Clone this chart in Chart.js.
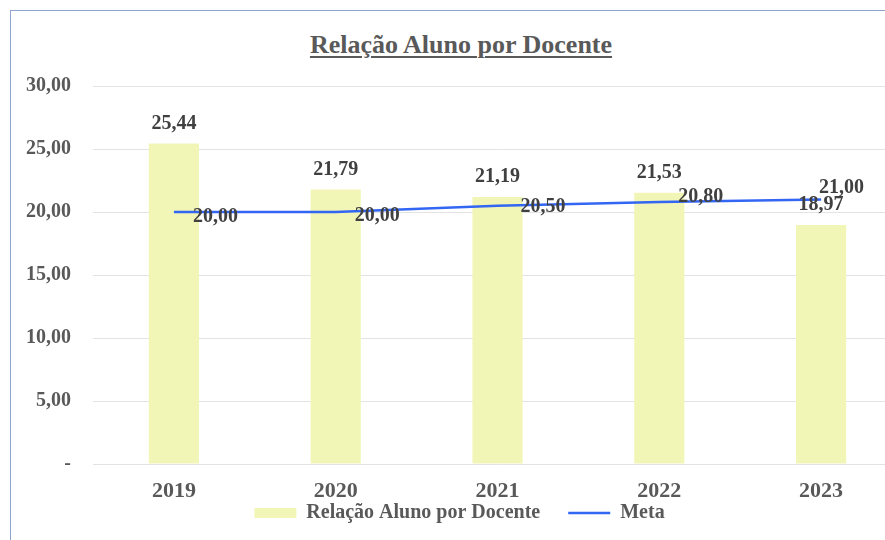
<!DOCTYPE html>
<html>
<head>
<meta charset="utf-8">
<script src="https://cdn.jsdelivr.net/npm/chart.js@4.4.1/dist/chart.umd.min.js"></script>
<style>
    html, body { margin: 0; padding: 0; background: #ffffff; overflow: hidden; width: 885px; height: 540px; }
    #box { position: absolute; left: 10px; top: 10px; width: 900px; height: 560px; border-left: 1px solid #8ea5cf; border-top: 1px solid #8ea5cf; box-sizing: border-box; }
    #title { position: absolute; left: 0; top: 19px; width: 900px; text-align: center; font: bold 26px "Liberation Serif", serif; color: #595959; text-decoration: underline; text-underline-offset: 3px; text-decoration-thickness: 2px; }
    #chartwrap { position: absolute; left: 0; top: 0; width: 900px; height: 522px; }
</style>
</head>
<body>
<div id="box">
    <div id="title">Relação Aluno por Docente</div>
    <div id="chartwrap"><canvas id="ratiochart"></canvas></div>
</div>
<script>
const years = ["2019", "2020", "2021", "2022", "2023"];
const ratioValues = [25.44, 21.79, 21.19, 21.53, 18.97];
const metaValues = [20.00, 20.00, 20.50, 20.80, 21.00];
const yTicks = [0, 5, 10, 15, 20, 25, 30];

// label offsets for the Meta values (dx from point, dy from point)
const metaLabelOffsets = [[19, 5], [19, 4], [23, 1], [19, -5], [-2, -12]];

const labelFont = 'bold 20px "Liberation Serif", serif';
const yearFont = 'bold 22px "Liberation Serif", serif';

function formatBR(v) {
    if (v === 0) return "-";
    return v.toFixed(2).replace(".", ",");
}

const valueLabels = {
    id: "valueLabels",
    afterDraw(chart) {
        const ctx = chart.ctx;
        ctx.save();
        ctx.textBaseline = "middle";

        // category labels under the axis
        const xScale = chart.scales.x;
        ctx.font = yearFont;
        ctx.fillStyle = "#595959";
        ctx.textAlign = "center";
        years.forEach((y, i) => {
            ctx.fillText(y, xScale.getPixelForTick(i), chart.chartArea.bottom + 27);
        });

        ctx.font = labelFont;
        ctx.fillStyle = "#404040";
        const barMeta = chart.getDatasetMeta(0);
        barMeta.data.forEach((bar, i) => {
            ctx.fillText(formatBR(ratioValues[i]), bar.x, bar.y - 20);
        });

        const lineMeta = chart.getDatasetMeta(1);
        ctx.textAlign = "left";
        lineMeta.data.forEach((pt, i) => {
            const off = metaLabelOffsets[i];
            ctx.fillText(formatBR(metaValues[i]), pt.x + off[0], pt.y + off[1]);
        });
        ctx.restore();
    }
};

const ratioChart = new Chart(document.getElementById("ratiochart"), {
    type: "bar",
    data: {
        labels: years,
        datasets: [
            {
                label: "Relação Aluno por Docente",
                data: ratioValues,
                backgroundColor: "#f1f6b7",
                borderWidth: 0,
                barPercentage: 0.62,
                categoryPercentage: 0.5,
                pointStyle: "rect",
                order: 2
            },
            {
                type: "line",
                label: "Meta",
                data: metaValues,
                borderColor: "#3366f2",
                backgroundColor: "#3366f2",
                borderWidth: 2.5,
                pointRadius: 0,
                pointStyle: "line",
                tension: 0,
                order: 1
            }
        ]
    },
    options: {
        responsive: true,
        maintainAspectRatio: false,
        animation: false,
        layout: {
            padding: { top: 75, right: 9, left: 6, bottom: 0 }
        },
        plugins: {
            title: { display: false },
            tooltip: { enabled: false },
            legend: {
                position: "bottom",
                labels: {
                    usePointStyle: true,
                    pointStyleWidth: 42,
                    boxHeight: 10,
                    padding: 28,
                    color: "#595959",
                    font: { family: "Liberation Serif", size: 20, weight: "bold" },
                    sort: (a, b) => a.datasetIndex - b.datasetIndex
                }
            }
        },
        scales: {
            x: {
                grid: { display: false, drawTicks: false },
                border: { display: false },
                ticks: { display: false },
                afterFit: function (scale) { scale.height = 11; }
            },
            y: {
                min: 0,
                max: 30,
                afterBuildTicks: function (scale) {
                    scale.ticks = yTicks.map(v => ({ value: v }));
                },
                grid: { color: "#e3e3e3", lineWidth: 1, drawTicks: false },
                border: { display: false },
                ticks: {
                    padding: 22,
                    color: "#595959",
                    font: { family: "Liberation Serif", size: 20, weight: "bold" },
                    callback: function (value) { return formatBR(value); }
                },
                afterFit: function (scale) { scale.width = 76; }
            }
        }
    },
    plugins: [valueLabels]
});
</script>
</body>
</html>
